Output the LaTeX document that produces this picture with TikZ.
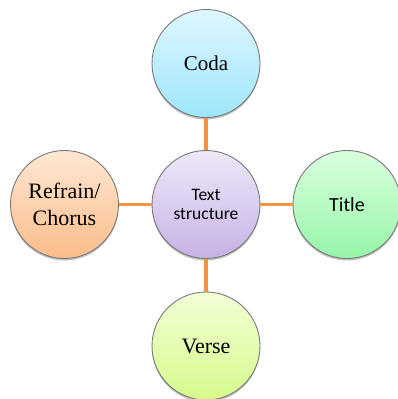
\documentclass[tikz,border=0pt]{standalone}
\usepackage{fontspec}
\setmainfont{Liberation Serif}
\newfontfamily\carlito{Carlito}
\usetikzlibrary{shadows}
\definecolor{edgeorange}{RGB}{242,148,68}
\definecolor{rimgray}{RGB}{120,120,120}
\definecolor{codatop}{RGB}{222,246,255}
\definecolor{codabot}{RGB}{158,230,252}
\definecolor{ctrtop}{RGB}{238,232,248}
\definecolor{ctrbot}{RGB}{198,178,230}
\definecolor{titletop}{RGB}{218,255,222}
\definecolor{titlebot}{RGB}{150,245,168}
\definecolor{reftop}{RGB}{255,232,212}
\definecolor{refbot}{RGB}{250,188,138}
\definecolor{versetop}{RGB}{242,255,214}
\definecolor{versebot}{RGB}{214,250,140}
\tikzset{
  bubble/.style={circle, minimum size=108pt, inner sep=0pt, draw=rimgray, line width=0.9pt,
    drop shadow={shadow xshift=0pt, shadow yshift=-2pt, opacity=0.25, fill=black},
    align=center},
  link/.style={draw=edgeorange, line width=3.5pt}
}
\begin{document}
\begin{tikzpicture}[x=1pt,y=1pt]
\clip (0,0) rectangle (398,399);
\fill[white] (0,0) rectangle (398,399);
\node[bubble, top color=ctrtop, bottom color=ctrbot, font=\carlito\fontsize{17.5}{18.5}\selectfont] (ctr) at (206,194.5) {Text\\structure};
\node[bubble, top color=codatop, bottom color=codabot, font=\fontsize{21}{25}\selectfont] (coda) at (206,335.5) {Coda};
\node[bubble, top color=titletop, bottom color=titlebot, font=\carlito\fontsize{20}{24}\selectfont] (title) at (347,194.5) {Title};
\node[bubble, top color=reftop, bottom color=refbot, font=\fontsize{22}{27.5}\selectfont] (ref) at (64.5,194.5) {Refrain/\\Chorus};
\node[bubble, top color=versetop, bottom color=versebot, font=\fontsize{22}{26}\selectfont] (verse) at (206,53) {Verse};
\draw[link] (ctr) -- (coda);
\draw[link] (ctr) -- (title);
\draw[link] (ctr) -- (ref);
\draw[link] (ctr) -- (verse);
\end{tikzpicture}
\end{document}
